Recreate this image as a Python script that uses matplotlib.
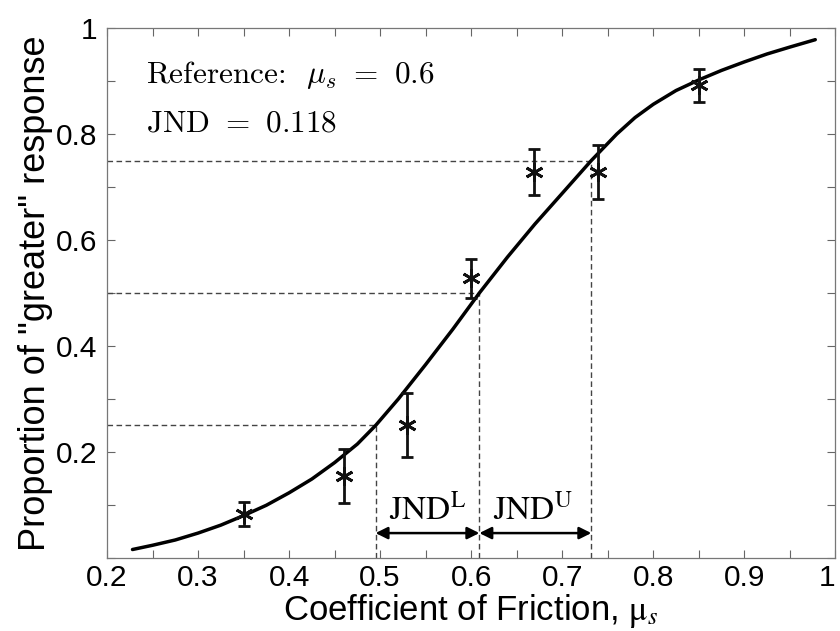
import matplotlib
matplotlib.use('Agg')
import matplotlib.pyplot as plt
from matplotlib.ticker import MultipleLocator

# measured points (mean proportion and error bar half-length)
friction = [0.35, 0.46, 0.529, 0.60, 0.669, 0.739, 0.85]
proportion = [0.083, 0.155, 0.251, 0.528, 0.728, 0.728, 0.892]
err = [0.023, 0.051, 0.060, 0.037, 0.044, 0.051, 0.031]

# fitted psychometric curve
curve_x = [0.228, 0.25, 0.275, 0.30, 0.325, 0.35, 0.375, 0.40, 0.425, 0.45,
           0.475, 0.495, 0.52, 0.55, 0.58, 0.609, 0.64, 0.67, 0.70, 0.732,
           0.76, 0.78, 0.80, 0.825, 0.85, 0.875, 0.90, 0.925, 0.95, 0.978]
curve_y = [0.016, 0.024, 0.034, 0.047, 0.062, 0.080, 0.0995, 0.123, 0.149, 0.180,
           0.215, 0.25, 0.30, 0.365, 0.432, 0.50, 0.568, 0.630, 0.688, 0.75,
           0.80, 0.831, 0.856, 0.882, 0.902, 0.920, 0.936, 0.951, 0.964, 0.978]

# threshold levels and where the curve crosses them
levels = [0.25, 0.5, 0.75]
crossings = [0.495, 0.609, 0.732]

fig = plt.figure(figsize=(8.4, 6.31), dpi=100)
ax = fig.add_axes([0.1274, 0.1157, 0.867, 0.8399])

for lv, cx in zip(levels, crossings):
    ax.plot([0.2, cx], [lv, lv], '--', color='#444444', lw=1.0, dashes=(4, 2.5))
    ax.plot([cx, cx], [0, lv], '--', color='#444444', lw=1.0, dashes=(4, 2.5))

ax.plot(curve_x, curve_y, '-', color='k', lw=2.5, solid_capstyle='round',
        solid_joinstyle='round')

ax.errorbar(friction, proportion, yerr=err, fmt='none', ecolor='#111111',
            elinewidth=2.0, capsize=4, capthick=2.0)
ax.plot(friction, proportion, linestyle='none', marker=(6, 2, 0),
        markersize=13, markeredgewidth=2.0, color='#111111')

# JND arrows
ax.annotate('', xy=(crossings[0], 0.047), xytext=(crossings[1], 0.047),
            arrowprops=dict(arrowstyle='<|-|>', lw=1.8, color='k',
                            mutation_scale=18, shrinkA=0, shrinkB=0))
ax.annotate('', xy=(crossings[1], 0.047), xytext=(crossings[2], 0.047),
            arrowprops=dict(arrowstyle='<|-|>', lw=1.8, color='k',
                            mutation_scale=18, shrinkA=0, shrinkB=0))
ax.text(0.552, 0.073, r'$\mathrm{JND}^{\mathrm{L}}$', fontsize=24,
        math_fontfamily='stix', ha='center', va='baseline')
ax.text(0.668, 0.073, r'$\mathrm{JND}^{\mathrm{U}}$', fontsize=24,
        math_fontfamily='stix', ha='center', va='baseline')

ax.text(0.243, 0.896, r'Reference:  $\mu_s$ $=$ 0.6', fontsize=22.5,
        family='cmr10', math_fontfamily='cm', ha='left', va='baseline')
ax.text(0.243, 0.804, r'JND $=$ 0.118', fontsize=22.5,
        family='cmr10', math_fontfamily='cm', ha='left', va='baseline')

ax.set_xlim(0.2, 1.0)
ax.set_ylim(0, 1)
ax.xaxis.set_minor_locator(MultipleLocator(0.05))
ax.yaxis.set_minor_locator(MultipleLocator(0.1))
ax.set_yticks([0.2, 0.4, 0.6, 0.8, 1.0])
ax.set_yticklabels(['0.2', '0.4', '0.6', '0.8', '1'])
ax.set_xticks([0.2, 0.3, 0.4, 0.5, 0.6, 0.7, 0.8, 0.9, 1.0])
ax.set_xticklabels(['0.2', '0.3', '0.4', '0.5', '0.6', '0.7', '0.8', '0.9', '1'])

ax.tick_params(which='both', direction='in', top=True, right=True,
               color='#666666', width=0.8, length=6)
for lab in ax.get_xticklabels() + ax.get_yticklabels():
    lab.set_fontfamily('Liberation Sans')
    lab.set_fontsize(21.5)
ax.get_xticklabels()[-1].set_horizontalalignment('right')
ax.tick_params(axis='x', pad=4)
ax.tick_params(axis='y', pad=7)
for sp in ax.spines.values():
    sp.set_color('#777777')
    sp.set_linewidth(0.9)

ax.set_xlabel(r'Coefficient of Friction, $\mathrm{\mu}_{s}$', fontsize=25,
              family='Liberation Sans', math_fontfamily='stix', labelpad=0)
ax.set_ylabel('Proportion of "greater" response', fontsize=26,
              family='Liberation Sans', labelpad=2)

fig.savefig('out.png', dpi=100)
